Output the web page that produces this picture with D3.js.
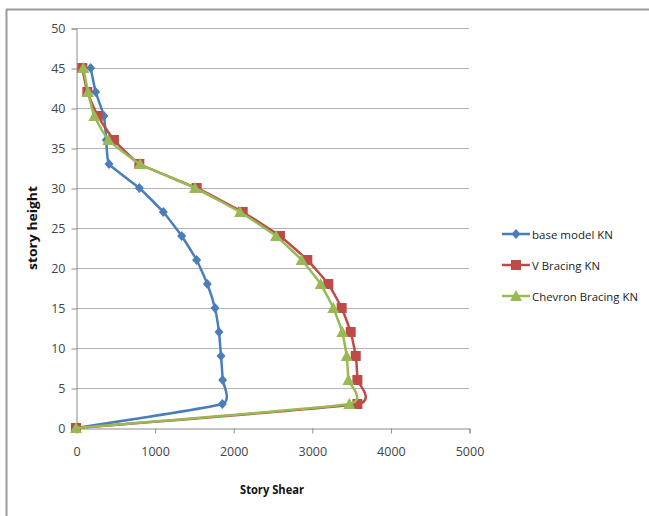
<!DOCTYPE html>
<html><head><meta charset="utf-8">
<script src="https://cdn.jsdelivr.net/npm/d3@7"></script>
<style>
body{margin:0;background:#fff;}
text{font-family:"Liberation Sans Narrow","Open Sans",Arial,sans-serif;}
</style></head>
<body>
<svg id="c" width="649" height="516"></svg>
<script>
const storyHeights = [45, 42, 39, 36, 33, 30, 27, 24, 21, 18, 15, 12, 9, 6, 3, 0];
const baseModel = [187, 250, 356, 385, 420, 806, 1111, 1345, 1535, 1671, 1768, 1819, 1845, 1866, 1862, 0];
const vBracing = [80, 144, 276, 483, 806, 1535, 2121, 2595, 2943, 3210, 3380, 3495, 3559, 3580, 3580, 0];
const chevron = [93, 153, 233, 411, 814, 1514, 2087, 2545, 2871, 3113, 3274, 3388, 3444, 3465, 3477, 0];
const seriesNames = ["base model KN", "V Bracing KN", "Chevron Bracing KN"];
const xTicks = [0, 1000, 2000, 3000, 4000, 5000];
const yTicks = [0, 5, 10, 15, 20, 25, 30, 35, 40, 45, 50];

const colors = ["#4a7ebb", "#be4b48", "#98b954"];
const svg = d3.select("#c");
const FONT = "\"Liberation Sans Narrow\",\"Open Sans\",Arial,sans-serif";

// frame (top and left edges)
svg.append("line").attr("x1",6).attr("x2",649).attr("y1",9.5).attr("y2",9.5).attr("stroke","#9a9a9a").attr("stroke-width",2);
svg.append("line").attr("x1",6.5).attr("x2",6.5).attr("y1",9).attr("y2",516).attr("stroke","#9a9a9a").attr("stroke-width",2);

const x = d3.scaleLinear().domain([0,5000]).range([76,469]);
const y = d3.scaleLinear().domain([0,50]).range([428,28]);

// gridlines
svg.append("g").selectAll("line").data(yTicks.filter(d=>d>0)).join("line")
  .attr("x1",x(0)).attr("x2",x(5000))
  .attr("y1",d=>Math.round(y(d))+0.5).attr("y2",d=>Math.round(y(d))+0.5)
  .attr("stroke","#b3b3b3").attr("stroke-width",1);

// y axis
const gy = svg.append("g").attr("transform",`translate(${x(0)+0.5},0.5)`)
  .call(d3.axisLeft(y).tickValues(yTicks).tickSize(5).tickPadding(6).tickFormat(d3.format("d")));
gy.select(".domain").attr("stroke","#8c8c8c");
gy.selectAll(".tick line").attr("stroke","#8c8c8c");
gy.selectAll("text").attr("font-size",12.5).attr("fill","#444").style("font-family",FONT);

// x axis
const gx = svg.append("g").attr("transform",`translate(0.5,${Math.round(y(0))+0.5})`)
  .call(d3.axisBottom(x).tickValues(xTicks).tickSize(5).tickPadding(14).tickFormat(d3.format("d")));
gx.select(".domain").attr("stroke","#8c8c8c");
gx.selectAll(".tick line").attr("stroke","#8c8c8c");
gx.selectAll("text").attr("font-size",12.5).attr("fill","#444").style("font-family",FONT);

// axis titles
svg.append("text").attr("x",272).attr("y",494).attr("text-anchor","middle")
  .attr("font-size",12.5).attr("font-weight","bold").attr("fill","#111")
  .attr("textLength",64).attr("lengthAdjust","spacingAndGlyphs").text("Story Shear");
svg.append("text").attr("transform","translate(37,228) rotate(-90)").attr("text-anchor","middle")
  .attr("font-size",12.5).attr("font-weight","bold").attr("fill","#111")
  .attr("textLength",84).attr("lengthAdjust","spacingAndGlyphs").text("story height");

const allSeries = [baseModel, vBracing, chevron];
const line = d3.line().x(d=>x(d[0])).y(d=>y(d[1])).curve(d3.curveCardinal.tension(0.6));

function marker(g, type, cx, cy, color){
  if(type===0){
    g.append("path").attr("d",`M${cx},${cy-5}L${cx+4.5},${cy}L${cx},${cy+5}L${cx-4.5},${cy}Z`).attr("fill",color);
  } else if(type===1){
    g.append("rect").attr("x",cx-5).attr("y",cy-5).attr("width",10).attr("height",10).attr("fill",color);
  } else {
    g.append("path").attr("d",`M${cx},${cy-6}L${cx+6},${cy+5}L${cx-6},${cy+5}Z`).attr("fill",color);
  }
}

[0,1,2].forEach(i=>{
  const pts = storyHeights.map((h,k)=>[allSeries[i][k], h]);
  const g = svg.append("g");
  g.append("path").attr("d",line(pts)).attr("fill","none").attr("stroke",colors[i]).attr("stroke-width",2.5);
  pts.forEach(p=>marker(g,i,x(p[0]),y(p[1]),colors[i]));
});

// legend
const legY = [234, 265, 296];
const legLen = [81, 68, 106];
seriesNames.forEach((n,i)=>{
  const g = svg.append("g");
  g.append("line").attr("x1",502).attr("x2",530).attr("y1",legY[i]).attr("y2",legY[i]).attr("stroke",colors[i]).attr("stroke-width",2.5);
  marker(g,i,516,legY[i],colors[i]);
  g.append("text").attr("x",532).attr("y",legY[i]+4.5).attr("font-size",11.5).attr("fill","#222")
    .attr("textLength",legLen[i]).attr("lengthAdjust","spacingAndGlyphs").text(n);
});
</script>
</body></html>
